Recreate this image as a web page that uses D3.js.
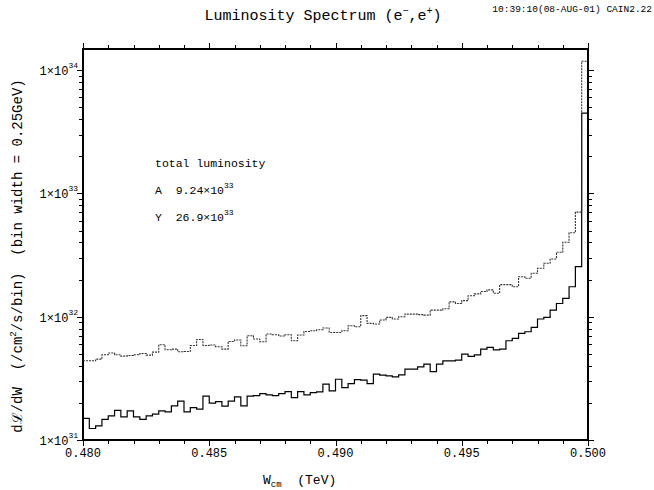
<!DOCTYPE html>
<html><head><meta charset="utf-8">
<script src="https://cdn.jsdelivr.net/npm/d3@7"></script>
<style>
body{margin:0;background:#fff;}
text, tspan{font-family:"Liberation Mono",monospace;fill:#000;}
</style></head>
<body><svg id="c" width="654" height="490"></svg>
<script>
// ---- data ----
const binStart = 0.480, binWidth = 0.00025;   // TeV (0.25 GeV bins)
const seriesNames = ["A", "Y"];
const totals = ["9.24", "26.9"];
const valuesA = [1.50e31,1.24e31,1.30e31,1.47e31,1.57e31,1.74e31,1.54e31,1.72e31,1.54e31,1.47e31,
1.57e31,1.62e31,1.72e31,1.69e31,1.89e31,2.07e31,1.69e31,1.83e31,1.78e31,2.27e31,
1.99e31,2.05e31,1.88e31,2.07e31,2.24e31,1.89e31,2.27e31,2.29e31,2.38e31,2.32e31,
2.29e31,2.38e31,2.47e31,2.21e31,2.47e31,2.32e31,2.42e31,2.46e31,2.84e31,2.50e31,
3.11e31,2.66e31,2.87e31,3.09e31,3.06e31,2.87e31,3.42e31,3.36e31,3.31e31,3.25e31,
3.38e31,3.76e31,3.76e31,3.92e31,4.13e31,3.59e31,4.13e31,4.39e31,4.39e31,4.45e31,
4.97e31,4.76e31,4.91e31,5.46e31,5.63e31,5.39e31,5.46e31,6.38e31,6.66e31,7.32e31,
7.55e31,8.19e31,9.58e31,9.87e31,1.13e32,1.28e32,1.41e32,1.75e32,2.55e32,4.47e33];
const valuesY = [4.39e31,4.39e31,4.53e31,4.91e31,5.07e31,4.91e31,4.79e31,4.85e31,4.91e31,5.03e31,
4.88e31,5.16e31,5.92e31,5.39e31,5.46e31,5.19e31,5.22e31,5.84e31,6.54e31,5.84e31,
5.89e31,5.70e31,5.46e31,6.30e31,6.47e31,5.81e31,7.01e31,6.59e31,6.26e31,7.23e31,
7.14e31,6.97e31,7.14e31,6.38e31,7.10e31,7.59e31,7.69e31,7.84e31,8.09e31,7.45e31,
7.45e31,7.69e31,8.45e31,8.29e31,1.02e32,8.82e31,8.72e31,9.40e31,9.87e31,9.58e31,
1.00e32,1.05e32,1.05e32,1.04e32,1.03e32,1.13e32,1.13e32,1.16e32,1.32e32,1.28e32,
1.35e32,1.48e32,1.53e32,1.60e32,1.65e32,1.55e32,1.82e32,1.82e32,1.75e32,2.11e32,
2.05e32,2.25e32,2.47e32,2.71e32,2.94e32,3.33e32,4.02e32,4.79e32,7.05e32,1.18e34];
const xMajor = [0.480,0.485,0.490,0.495,0.500];
const xMinor = [0.481,0.482,0.483,0.484,0.486,0.487,0.488,0.489,0.491,0.492,0.493,0.494,0.496,0.497,0.498,0.499];
const yMajor = [1e31,1e32,1e33,1e34];
const yMinor = [2e31,3e31,4e31,5e31,6e31,7e31,8e31,9e31,2e32,3e32,4e32,5e32,6e32,7e32,8e32,9e32,2e33,3e33,4e33,5e33,6e33,7e33,8e33,9e33];

// ---- layout ----
const L = 83, R = 588, T = 49, B = 440;
const svg = d3.select("#c");
const x = d3.scaleLinear().domain([0.480, 0.500]).range([L, R]);
const y = d3.scaleLog().domain([1e31, Math.pow(10, 34.171)]).range([B, T]);

function axis(gen, tx, ty, vals, size){
  const g = svg.append("g").attr("transform", `translate(${tx},${ty})`)
    .call(gen.tickValues(vals).tickSize(size).tickSizeOuter(0).tickFormat(""));
  g.select(".domain").remove();
  g.selectAll("line").attr("stroke","#000").attr("stroke-width",1).attr("shape-rendering","crispEdges");
  return g;
}
axis(d3.axisBottom(x), 0, B, xMajor, 6);
axis(d3.axisBottom(x), 0, B, xMinor, 4);
axis(d3.axisTop(x), 0, T, xMajor, 6);
axis(d3.axisTop(x), 0, T, xMinor, 4);
axis(d3.axisLeft(y), L, 0, yMajor, 6);
axis(d3.axisLeft(y), L, 0, yMinor, 4);
axis(d3.axisRight(y), R, 0, yMajor, 6);
axis(d3.axisRight(y), R, 0, yMinor, 4);

svg.append("rect").attr("x",L).attr("y",T).attr("width",R-L).attr("height",B-T)
  .attr("fill","none").attr("stroke","#000").attr("stroke-width",1.2).attr("shape-rendering","crispEdges");

// x tick labels
svg.append("g").selectAll("text").data(xMajor).join("text")
  .attr("x", d => x(d)).attr("y", B + 17).attr("text-anchor","middle")
  .attr("font-size", 12).attr("fill","#000").text(d => d3.format(".3f")(d));

// y tick labels
const yl = svg.append("g").selectAll("text").data(yMajor).join("text")
  .attr("x", L - 5).attr("y", d => y(d) + 5).attr("text-anchor","end").attr("font-size", 12).attr("fill","#000");
yl.append("tspan").text("1×10");
yl.append("tspan").attr("dy",-7).attr("font-size",8).text(d => Math.round(Math.log10(d)));

// step histograms
function stepPath(vals){
  const pts = vals.map((v,i) => [binStart + i*binWidth, v]);
  pts.push([binStart + vals.length*binWidth, vals[vals.length-1]]);
  return d3.line().x(d => x(d[0])).y(d => y(d[1])).curve(d3.curveStepAfter)(pts);
}
svg.append("path").attr("d", stepPath(valuesA)).attr("fill","none")
  .attr("stroke","#000").attr("stroke-width",1.2);
svg.append("path").attr("d", stepPath(valuesY)).attr("fill","none")
  .attr("stroke","#333").attr("stroke-width",1.1).attr("stroke-dasharray","2,1");

// title
const t = svg.append("text").attr("x", 323).attr("y", 20).attr("text-anchor","middle")
  .attr("font-size", 15).attr("fill","#000");
t.append("tspan").text("Luminosity Spectrum (e");
t.append("tspan").attr("dy",-6).attr("font-size",10).text("−");
t.append("tspan").attr("dy",6).text(",e");
t.append("tspan").attr("dy",-6).attr("font-size",10).text("+");
t.append("tspan").attr("dy",6).text(")");
svg.append("text").attr("x", 652).attr("y", 12).attr("text-anchor","end")
  .attr("font-size", 9.5).attr("fill","#000").text("10:39:10(08-AUG-01)  CAIN2.22");

// legend
svg.append("text").attr("x",155).attr("y",167).attr("font-size",11.5).attr("fill","#000").text("total luminosity");
seriesNames.forEach((n,i) => {
  const tt = svg.append("text").attr("x",155).attr("y",194 + i*27).attr("font-size",11.5)
    .attr("fill","#000").attr("xml:space","preserve");
  tt.append("tspan").text(n + "  " + totals[i] + "×10");
  tt.append("tspan").attr("dy",-6).attr("font-size",8).text("33");
});

// axis titles
const xt = svg.append("text").attr("x",263).attr("y",484).attr("font-size",13)
  .attr("fill","#000").attr("xml:space","preserve");
xt.append("tspan").attr("fill","#000").text("W");
xt.append("tspan").attr("fill","#000").attr("dy",3).attr("font-size",9).text("cm");
xt.append("tspan").attr("fill","#000").attr("dy",-3).text("  (TeV)");

const yt = svg.append("text").attr("transform","translate(22,256) rotate(-90)")
  .attr("text-anchor","middle").attr("font-size",14).attr("fill","#000").attr("xml:space","preserve");
yt.append("tspan").text("dℒ/dW  (/cm");
yt.append("tspan").attr("dy",-6).attr("font-size",9).text("2");
yt.append("tspan").attr("dy",6).text("/s/bin)  (bin width = 0.25GeV)");
</script></body></html>
